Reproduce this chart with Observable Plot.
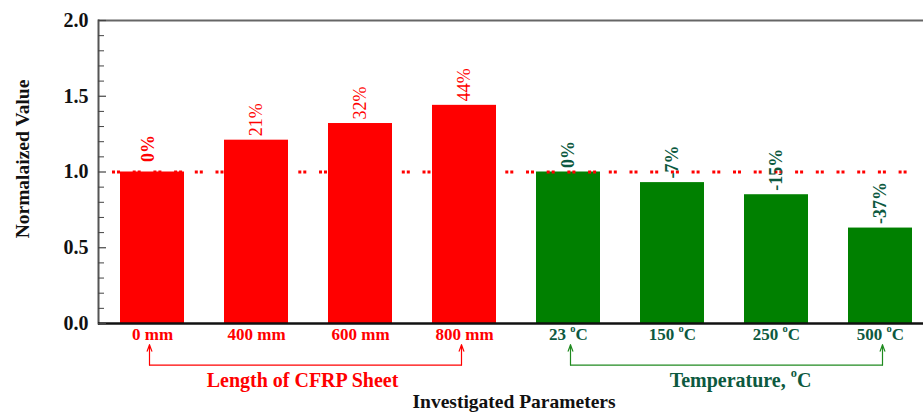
<!DOCTYPE html>
<html>
<head>
<meta charset="utf-8">
<script src="https://cdn.jsdelivr.net/npm/d3@7"></script>
<script src="https://cdn.jsdelivr.net/npm/@observablehq/plot@0.6"></script>
<style>
  html, body { margin: 0; padding: 0; background: #fff; overflow: hidden; }
  svg { display: block; }
</style>
</head>
<body>
<div id="chart"></div>
<script>
// ---- data ----
const categories = ["0 mm", "400 mm", "600 mm", "800 mm", "23 °C", "150 °C", "250 °C", "500 °C"];
const values = [1.00, 1.21, 1.32, 1.44, 1.00, 0.93, 0.85, 0.63];
const pctLabels = ["0%", "21%", "32%", "44%", "0%", "-7%", "-15%", "-37%"];
const groupOf = ["cfrp", "cfrp", "cfrp", "cfrp", "temp", "temp", "temp", "temp"];
const groupNames = {cfrp: "Length of CFRP Sheet", temp: "Temperature, °C"};
const yMajorTicks = [0, 0.5, 1.0, 1.5, 2.0];
const yMinorTicks = [0.1, 0.2, 0.3, 0.4, 0.6, 0.7, 0.8, 0.9, 1.1, 1.2, 1.3, 1.4, 1.6, 1.7, 1.8, 1.9];
const referenceValue = 1.0;
const yLabel = "Normalaized Value";
const xLabel = "Investigated Parameters";

// ---- styles ----
const RED = "#ff0000", GREEN_BAR = "#008000", GREEN_TXT = "#0d5940", GREEN_LINE = "#1f8a1f";
const W = 923, H = 417, ML = 98, MT = 20, MB = 94;
const FONT = "'Liberation Serif', 'Times New Roman', serif";

const rows = categories.map((c, i) => ({cat: c, value: values[i], pct: pctLabels[i], group: groupOf[i]}));
const cfrpCats = categories.filter((c, i) => groupOf[i] === "cfrp");
const tempCats = categories.filter((c, i) => groupOf[i] === "temp");
const brackets = [
  {group: "cfrp", start: cfrpCats[0], end: cfrpCats[cfrpCats.length - 1]},
  {group: "temp", start: tempCats[0], end: tempCats[tempCats.length - 1]}
];
const yBr = -0.275, yTip = -0.14;
const arrowPts = brackets.flatMap(b => [{group: b.group, cat: b.start}, {group: b.group, cat: b.end}]);

const plot = Plot.plot({
  width: W,
  height: H,
  marginLeft: ML,
  marginRight: 0,
  marginTop: MT,
  marginBottom: MB,
  style: {fontFamily: FONT, background: "white", overflow: "visible"},
  x: {type: "band", domain: categories, range: [ML, 933], paddingInner: 0.387, paddingOuter: 0.19, label: null},
  y: {domain: [0, 2], label: null},
  marks: [
    Plot.barY(rows, {x: "cat", y: "value", fill: d => d.group === "cfrp" ? RED : GREEN_BAR}),
    // frame lines
    Plot.ruleY([2], {stroke: "#666", strokeWidth: 2}),
    Plot.frame({anchor: "left", stroke: "#555", strokeWidth: 2}),
    Plot.ruleY([0], {stroke: "#111", strokeWidth: 2.5}),
    // y ticks (inward)
    Plot.ruleY(yMinorTicks, {stroke: "#444", strokeWidth: 1, insetRight: W - ML - 6}),
    Plot.ruleY(yMajorTicks, {stroke: "#444", strokeWidth: 1.2, insetRight: W - ML - 8}),
    Plot.axisY(yMajorTicks, {tickSize: 0, tickPadding: 10, tickFormat: d => d.toFixed(1), fontSize: 20, fontWeight: "bold", fill: "#111", label: null}),
    // reference line
    Plot.ruleY([referenceValue], {stroke: RED, strokeWidth: 3, strokeDasharray: "3,2,3,12.7", insetLeft: 14, insetRight: 10}),
    // value labels
    Plot.text(rows.filter(d => d.group === "cfrp" && d.pct !== "0%"), {x: "cat", y: "value", text: "pct", rotate: -90, textAnchor: "start", dy: -4, fill: RED, fontSize: 18}),
    Plot.text(rows.filter(d => d.group === "cfrp" && d.pct === "0%"), {x: "cat", y: "value", text: "pct", rotate: -90, textAnchor: "start", dy: -10, dx: -4, fill: RED, fontSize: 18, fontWeight: "bold"}),
    Plot.text(rows.filter(d => d.group === "temp"), {x: "cat", y: "value", text: "pct", rotate: -90, textAnchor: "start", dy: -4, fill: GREEN_TXT, fontSize: 18, fontWeight: "bold"}),
    // x tick labels
    Plot.axisX(cfrpCats, {tickSize: 0, tickPadding: 4, fontSize: 17, fontWeight: "bold", fill: RED, label: null}),
    Plot.axisX(tempCats, {tickSize: 0, tickPadding: 4, fontSize: 17, fontWeight: "bold", fill: GREEN_TXT, label: null}),
    // group brackets
    Plot.link(brackets.filter(b => b.group === "cfrp"), {x1: "start", x2: "end", y1: () => yBr, y2: () => yBr, stroke: RED, strokeWidth: 1.2, dx: -3}),
    Plot.link(brackets.filter(b => b.group === "temp"), {x1: "start", x2: "end", y1: () => yBr, y2: () => yBr, stroke: GREEN_LINE, strokeWidth: 1.2, dx: 2}),
    Plot.arrow(arrowPts.filter(p => p.group === "cfrp"), {x: "cat", y1: () => yBr, y2: () => yTip, stroke: RED, strokeWidth: 1.2, headLength: 10, headAngle: 40, dx: -3}),
    Plot.arrow(arrowPts.filter(p => p.group === "temp"), {x: "cat", y1: () => yBr, y2: () => yTip, stroke: GREEN_LINE, strokeWidth: 1.2, headLength: 10, headAngle: 40, dx: 2}),
    Plot.text([groupNames.cfrp], {x: () => cfrpCats[1], y: () => yBr, dx: 46, dy: 15, fill: RED, fontSize: 20, fontWeight: "bold", text: d => d}),
    Plot.text([groupNames.temp], {x: () => tempCats[1], y: () => yBr, dx: 68, dy: 15, fill: GREEN_TXT, fontSize: 20, fontWeight: "bold", text: d => d}),
    // axis titles
    Plot.text([yLabel], {frameAnchor: "left", textAnchor: "middle", lineAnchor: "middle", rotate: -90, dx: -76, dy: -13, fontSize: 19.5, fontWeight: "bold", fill: "#111", text: d => d}),
    Plot.text([xLabel], {frameAnchor: "bottom", textAnchor: "middle", lineAnchor: "bottom", dx: 3, dy: 84, fontSize: 19.5, fontWeight: "bold", fill: "#111", text: d => d})
  ]
});

document.getElementById("chart").appendChild(plot);

// render "°C" as a superscript small "o" followed by C
d3.select(plot).selectAll("text").each(function() {
  const el = this;
  const target = el.childNodes.length === 1 && el.firstChild.nodeName === "tspan" ? el.firstChild : el;
  const txt = target.textContent;
  if (!txt.includes("°")) return;
  const [before, after] = txt.split("°");
  while (target.firstChild) target.removeChild(target.firstChild);
  target.appendChild(document.createTextNode(before));
  const sup = document.createElementNS("http://www.w3.org/2000/svg", "tspan");
  sup.setAttribute("font-size", "0.62em");
  sup.setAttribute("dy", "-0.75em");
  sup.textContent = "o";
  target.appendChild(sup);
  const rest = document.createElementNS("http://www.w3.org/2000/svg", "tspan");
  rest.setAttribute("dy", "0.465em");
  rest.textContent = after;
  target.appendChild(rest);
});
</script>
</body>
</html>
